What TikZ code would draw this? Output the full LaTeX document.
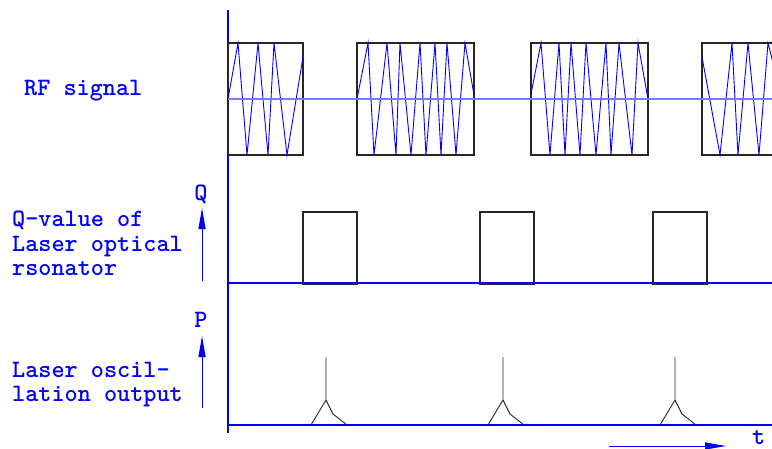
\documentclass[tikz,border=0pt]{standalone}
\usepackage{fontspec}
\usetikzlibrary{arrows.meta}
\definecolor{paleblue}{RGB}{120,120,255}

\begin{document}
\begin{tikzpicture}[
    x=1pt, y=-1pt,
    lab/.style={
      blue, inner sep=0pt,
      font=\ttfamily\bfseries\fontsize{25}{24.5}\selectfont
    },
    axis/.style={blue, line width=1.1pt},
    sig/.style={blue, line width=0.9pt},
    box/.style={black!85, line width=1.1pt},
    pulse/.style={black!85, line width=0.9pt},
    arr/.style={-{Triangle[length=21pt,width=7pt]}, blue, line width=1pt},
  ]
    \useasboundingbox (0,0) rectangle (772,448);

    % labels on the left
    \node[lab, anchor=base west] (rf) at (24,95) {RF signal};
    \node[lab, align=left, anchor=north west] (qval) at (12,211) {%
      Q-value of\\
      Laser optical\\
      rsonator
    };
    \node[lab, align=left, anchor=north west] (osc) at (12,362) {%
      Laser oscil-\\
      lation output
    };
    \node[lab, anchor=base] (qlab) at (201,200) {Q};
    \node[lab, anchor=base] (plab) at (201,327) {P};
    \node[lab, anchor=base west] (tlab) at (752,444) {t};

    % arrows
    \coordinate (qfoot) at (202,281);
    \coordinate (qtip) at (202,208);
    \coordinate (pfoot) at (202,408);
    \coordinate (ptip) at (202,336);
    \coordinate (tfoot) at (609,446);
    \coordinate (ttip) at (726,446);
    \draw[arr] (qfoot) -- (qtip);
    \draw[arr] (pfoot) -- (ptip);
    \draw[arr] (tfoot) -- (ttip);

    % axes
    \draw[axis] (228,10) -- (228,433);
    \draw[axis] (228,283) -- (772,283);
    \draw[axis] (228,425) -- (772,425);

    % RF bursts
    \draw[box] (228,43) rectangle (303,155);
    \draw[box] (357,43) rectangle (474,155);
    \draw[box] (531,43) rectangle (648,155);
    \draw[box] (702,43) rectangle (800,155);
    \draw[sig] (228,99) -- (238,43) -- (247,155) -- (258,43) -- (268,155)
      -- (274,43) -- (287,155) -- (303,57);
    \draw[sig] (357,99) -- (368,43) -- (374,155) -- (387,43) -- (396,155)
      -- (400,43) -- (411,155) -- (420,43) -- (426,155) -- (435,43)
      -- (441,155) -- (447,43) -- (456,155) -- (465,43) -- (474,95);
    \draw[sig] (531,94) -- (541,43) -- (550,155) -- (559,43) -- (565,155)
      -- (571,43) -- (580,155) -- (586,43) -- (596,155) -- (606,43)
      -- (611,155) -- (619,43) -- (632,155) -- (638,43) -- (648,99);
    \draw[sig] (702,57) -- (720,155) -- (732,43) -- (738,155) -- (748,43)
      -- (759,155) -- (768,43) -- (780,90);
    \draw[paleblue, line width=1.2pt] (228,99) -- (772,99);

    % Q switching
    \foreach \x in {303,480,653}
      \draw[box] (\x,212) rectangle ++(54,72);

    % output pulses
    \foreach \x in {326,503,675} {
      \draw[pulse] (\x,357) -- (\x,400) -- (\x-15,425);
      \draw[pulse] (\x,400) -- (\x+7,414) -- (\x+21,425);
    }
  \end{tikzpicture}
\end{document}
